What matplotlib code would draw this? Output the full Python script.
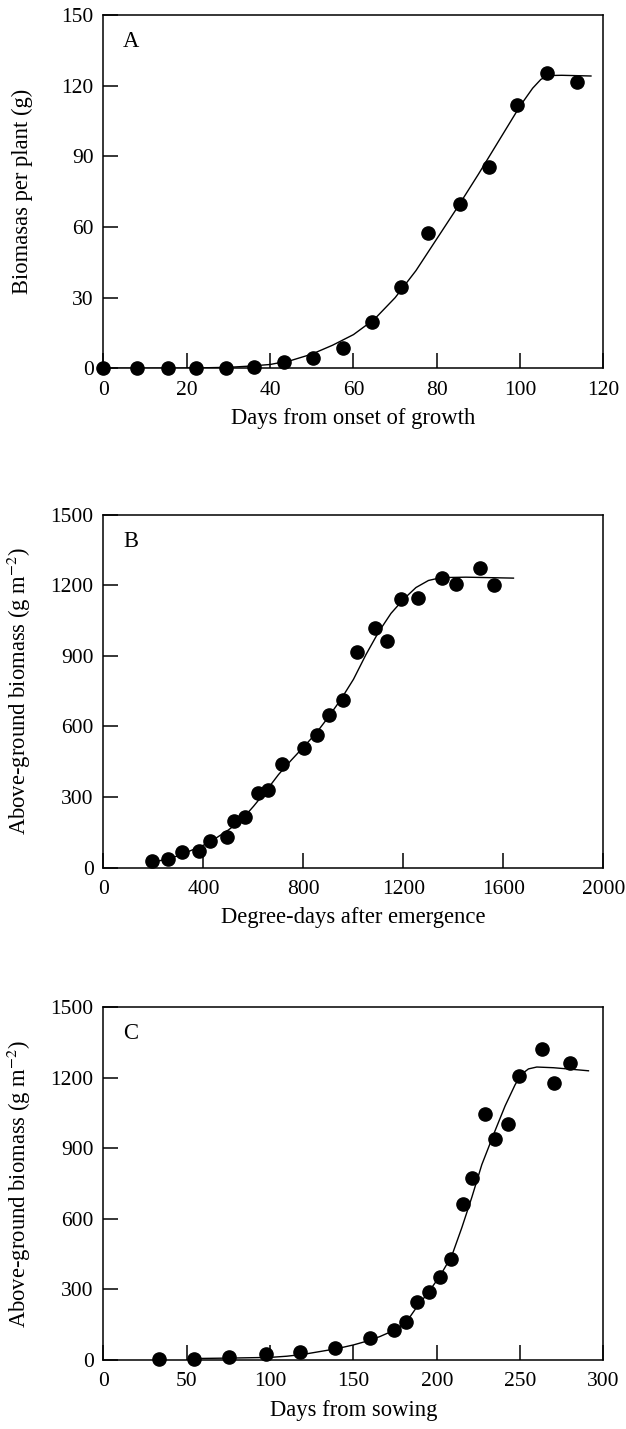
import matplotlib
matplotlib.use("Agg")
import matplotlib.pyplot as plt

plt.rcParams['font.family'] = ['Liberation Serif', 'DejaVu Serif']
plt.rcParams['mathtext.fontset'] = 'stix'

# panel A: biomass per plant vs days from onset of growth
a_days = [0, 8.1, 15.4, 22.1, 29.5, 36.2, 43.4, 50.4, 57.4, 64.4, 71.4, 78.0, 85.5, 92.6, 99.3, 106.5, 113.6]
a_mass = [0, 0, 0, 0, 0.3, 0.5, 2.5, 4.2, 8.8, 19.8, 34.4, 57.4, 69.8, 85.4, 111.9, 125.4, 121.8]
a_fit_x = [0, 10, 20, 30, 35, 40, 45, 50, 55, 60, 65, 70, 75, 80, 85, 90, 95, 100, 103, 105, 107, 110, 117]
a_fit_y = [0, 0, 0.05, 0.4, 0.9, 1.6, 3.3, 6.0, 9.8, 14.3, 20.8, 30.0, 41.5, 55.0, 68.5, 82.5, 97.0, 111.5, 119.0, 122.8, 124.4, 124.5, 124.2]

# panel B: above-ground biomass vs degree-days
b_dd = [193, 260, 316, 381, 426, 493, 522, 566, 617, 657, 714, 804, 853, 904, 958, 1014, 1088, 1136, 1190, 1258, 1353, 1411, 1508, 1563]
b_mass = [28, 35, 64, 69, 112, 129, 196, 214, 316, 328, 441, 510, 563, 649, 714, 917, 1020, 962, 1140, 1145, 1230, 1206, 1273, 1200]
b_fit_x = [180, 200, 300, 400, 450, 500, 550, 600, 650, 700, 750, 800, 850, 900, 950, 1000, 1050, 1100, 1150, 1200, 1250, 1300, 1350, 1450, 1640]
b_fit_y = [18, 22, 50, 95, 125, 160, 200, 260, 325, 395, 455, 512, 570, 640, 715, 800, 905, 1000, 1080, 1140, 1190, 1220, 1232, 1234, 1230]

# panel C: above-ground biomass vs days from sowing
c_days = [33.5, 54.5, 75.5, 97.5, 118, 139, 160, 174.5, 181.6, 188.1, 195.1, 201.8, 208.7, 215.6, 221.3, 228.7, 235, 242.7, 249.6, 263, 270.4, 280]
c_mass = [6, 6, 12, 26, 35, 53, 92, 128, 162, 245, 287, 352, 428, 663, 775, 1047, 938, 1002, 1207, 1321, 1178, 1260]
c_fit_x = [52, 75, 100, 110, 120, 130, 140, 150, 160, 166, 175, 182, 188, 195, 202, 209, 215, 221, 227, 235, 241, 247, 251, 255, 260, 270, 280, 291]
c_fit_y = [6, 8, 11, 16, 24, 36, 48, 64, 84, 100, 128, 164, 225, 288, 358, 443, 562, 691, 830, 975, 1080, 1170, 1215, 1237, 1245, 1242, 1236, 1229]

fig = plt.figure(figsize=(6.26, 14.29), dpi=100)

panels = [
    (0.7423, a_days, a_mass, a_fit_x, a_fit_y, 'A', (0, 120), range(0, 121, 20), (0, 150), range(0, 151, 30),
     'Days from onset of growth', 'Biomasas per plant (g)'),
    (0.3929, b_dd, b_mass, b_fit_x, b_fit_y, 'B', (0, 2000), range(0, 2001, 400), (0, 1500), range(0, 1501, 300),
     'Degree-days after emergence', 'Above-ground biomass (g m$^{-2}$)'),
    (0.0483, c_days, c_mass, c_fit_x, c_fit_y, 'C', (0, 300), range(0, 301, 50), (0, 1500), range(0, 1501, 300),
     'Days from sowing', 'Above-ground biomass (g m$^{-2}$)'),
]

for bottom, x, y, fx, fy, tag, xlim, xt, ylim, yt, xlab, ylab in panels:
    ax = fig.add_axes([0.1653, bottom, 0.7987, 0.247])
    ax.plot(fx, fy, color='black', lw=1.0, zorder=2)
    ax.plot(x, y, 'o', color='black', ms=9.5, clip_on=False, zorder=3)
    ax.set_xlim(*xlim)
    ax.set_ylim(*ylim)
    ax.set_xticks(list(xt))
    ax.set_yticks(list(yt))
    ax.tick_params(direction='in', length=11, width=1.1, labelsize=15.5, top=False, right=False)
    ax.tick_params(axis='x', pad=9)
    ax.tick_params(axis='y', pad=7)
    for s in ax.spines.values():
        s.set_linewidth(1.1)
    ax.set_xlabel(xlab, fontsize=16.3, labelpad=6)
    ax.set_ylabel(ylab, fontsize=16.3)
    ax.yaxis.set_label_coords(-0.141, 0.5)
    ax.text(0.039, 0.925, tag, transform=ax.transAxes, fontsize=16.3, va='center', ha='left')

fig.savefig('out.png', dpi=100)
